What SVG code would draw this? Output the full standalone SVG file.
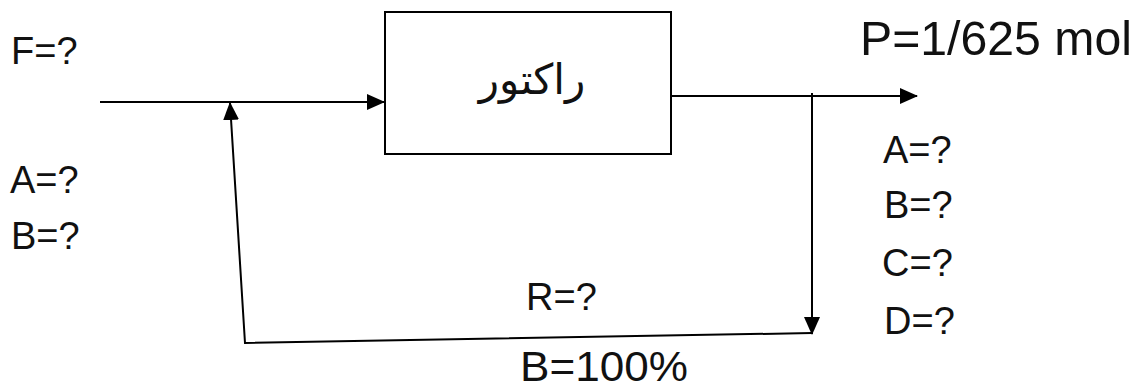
<svg xmlns="http://www.w3.org/2000/svg" width="1144" height="390" viewBox="0 0 1144 390">
<defs>
<marker id="arr" markerUnits="userSpaceOnUse" markerWidth="18" markerHeight="16" viewBox="0 0 18 16" refX="17" refY="8" orient="auto">
<path d="M0,0 L18,8 L0,16 Z" fill="#000"/>
</marker>
</defs>
<style>
.lbl{font-family:"Liberation Sans",Arial,sans-serif;font-size:38px;fill:#111}
.big{font-size:48px}
.fa{font-family:"DejaVu Sans","Liberation Sans",sans-serif;font-size:42px;fill:#111}
.ln{fill:none;stroke:#000;stroke-width:2}
</style>
<rect width="1144" height="390" fill="#fff"/>
<g id="connectors">
<path class="ln" d="M100,102 L384,102" marker-end="url(#arr)"/>
<path class="ln" d="M671,96 L917,96" marker-end="url(#arr)"/>
<path class="ln" d="M812,93 L812,334" marker-end="url(#arr)"/>
<path class="ln" d="M812,333 L245,343 L230,103" marker-end="url(#arr)"/>
</g>
<g id="reactor">
<rect x="385" y="12" width="286" height="142" fill="none" stroke="#000" stroke-width="2"/>
<text class="fa" x="532" y="94" text-anchor="middle" direction="rtl">راکتور</text>
</g>
<g id="feed-labels">
<text class="lbl" x="11" y="64">F=?</text>
<text class="lbl" x="10" y="193">A=?</text>
<text class="lbl" x="11" y="249">B=?</text>
</g>
<g id="product-labels">
<text class="lbl big" x="860" y="55" textLength="272" lengthAdjust="spacingAndGlyphs">P=1/625 mol</text>
<text class="lbl" x="883" y="163">A=?</text>
<text class="lbl" x="884" y="218">B=?</text>
<text class="lbl" x="882" y="276">C=?</text>
<text class="lbl" x="884" y="334">D=?</text>
</g>
<g id="recycle-labels">
<text class="lbl" x="526" y="310">R=?</text>
<text class="lbl" x="520" y="381" style="font-size:42px" textLength="168" lengthAdjust="spacingAndGlyphs">B=100%</text>
</g>
</svg>
